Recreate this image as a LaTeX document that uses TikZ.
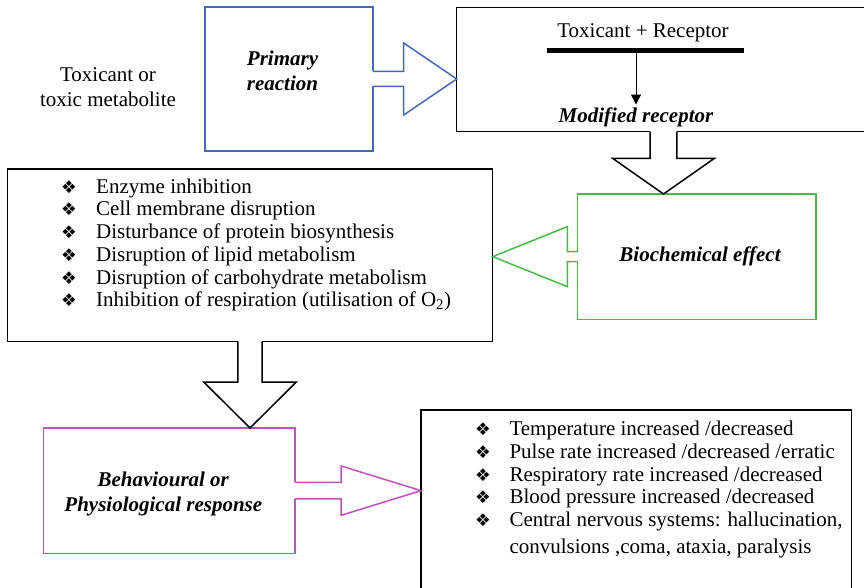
\documentclass[tikz,border=0pt]{standalone}
\usepackage{fontspec}
\setmainfont{Liberation Serif}
\newfontfamily\symfont{DejaVu Sans}
\usetikzlibrary{calc,arrows.meta}

\definecolor{boxblue}{RGB}{68,104,192}
\definecolor{boxgreen}{RGB}{66,190,66}
\definecolor{boxmagenta}{RGB}{192,82,192}

\newcommand\bul{\makebox[35pt][l]{\symfont\fontsize{17.5}{17.5}\selectfont ❖}}
\newcommand\bulb{\makebox[34.3pt][l]{\symfont\fontsize{17.5}{17.5}\selectfont ❖}}

% hollow block arrow: #1 colour, #2 base, #3 tip, #4 shaft half width,
% #5 head half width, #6 head length
\newcommand\blockarrow[6]{%
  \draw[white, line width=3pt] ($(#2)!#4!90:(#3)$) -- ($(#2)!#4!-90:(#3)$);
  \draw[#1, line width=1.5pt, line join=miter]
    ($(#2)!#4!90:(#3)$)
    -- ($(#3)!#6!(#2)!#4!90:(#3)$)
    -- ($(#3)!#6!(#2)!#5!90:(#3)$)
    -- (#3)
    -- ($(#3)!#6!(#2)!#5!-90:(#3)$)
    -- ($(#3)!#6!(#2)!#4!-90:(#3)$)
    -- ($(#2)!#4!-90:(#3)$);
}

\tikzset{
  box/.style={draw=#1, line width=1.5pt, rectangle, inner sep=0pt, outer sep=0pt, anchor=north west},
  box/.default=black,
  label/.style={inner sep=0pt, font=\fontsize{21}{25}\selectfont\bfseries\itshape, align=center},
  plain/.style={inner sep=0pt, font=\fontsize{21}{25}\selectfont, align=center},
  listtext/.style={inner sep=0pt, anchor=north west, align=left, font=\fontsize{21}{22.7}\selectfont},
}

\begin{document}
\begin{tikzpicture}[x=1pt, y=-1pt]
\clip (0,0) rectangle (864,588);
\fill[white] (0,0) rectangle (864,588);

% boxes
\node[box=boxblue, minimum width=168pt, minimum height=144pt] (prim) at (205,7) {};
\node[box, minimum width=430pt, minimum height=124.4pt] (recep) at (456.7,7.3) {};
\node[box=boxgreen, minimum width=238.3pt, minimum height=125.3pt] (bio) at (577.7,194) {};
\node[box, minimum width=485.4pt, minimum height=172.7pt] (list1) at (7.3,169) {};
\node[box=boxmagenta, minimum width=251.7pt, minimum height=125.3pt] (beh) at (43.3,428) {};
\node[box, minimum width=430.7pt, minimum height=200pt] (list2) at (421,410) {};

% labels
\node[plain, anchor=north] (toxlab) at (108,67.7) {Toxicant or\\toxic metabolite};
\node[label, anchor=north] (primlab) at (282.5,51) {Primary\\reaction};
\node[plain, anchor=base] (tr) at (643,37.7) {Toxicant + Receptor};
\node[label, anchor=base] (mr) at (636,122.5) {Modified receptor};
\node[label, anchor=base] (biolab) at (700,261.7) {Biochemical effect};
\node[label, anchor=north] (behlab) at (163.3,471.4) {Behavioural or\\Physiological response};

% receptor binding
\coordinate (barL) at (546.7,50.5);
\coordinate (barR) at (744,50.5);
\draw[line width=5pt] (barL) -- (barR);
\draw[line width=1pt, -{Triangle[length=10pt,width=10pt]}]
  (mr.north |- barR) -- ($(mr.north)+(0,-3)$);

% lists
\node[listtext] (effects) at (61,178.5) {%
\bul Enzyme inhibition\\
\bul Cell membrane disruption\\
\bul Disturbance of protein biosynthesis\\
\bul Disruption of lipid metabolism\\
\bul Disruption of carbohydrate metabolism\\
\bul Inhibition of respiration (utilisation of O\textsubscript{2})};

\node[listtext] (responses) at (475,421) {%
\bulb Temperature increased /decreased\\
\bulb Pulse rate increased /decreased /erratic\\
\bulb Respiratory rate increased /decreased\\
\bulb Blood pressure increased /decreased\\
\bulb Central nervous systems: hallucination,\\[4pt]
\hspace*{34.3pt}convulsions ,coma, ataxia, paralysis};

% block arrows
\coordinate (a1b) at (prim.east);
\coordinate (a1t) at (recep.west |- prim.east);
\blockarrow{boxblue}{a1b}{a1t}{7.5pt}{36pt}{53pt}

\path (recep.south west) ++(206.8,0) coordinate (a2b);
\coordinate (a2t) at (a2b |- bio.north);
\blockarrow{black}{a2b}{a2t}{13.3pt}{51pt}{35.7pt}

\coordinate (a3b) at (bio.west);
\coordinate (a3t) at (list1.east |- bio.west);
\blockarrow{boxgreen}{a3b}{a3t}{5pt}{30pt}{74.6pt}

\coordinate (a4b) at (list1.south);
\coordinate (a4t) at (list1.south |- beh.north);
\blockarrow{black}{a4b}{a4t}{12.2pt}{46.3pt}{46pt}

\coordinate (a5b) at (beh.east);
\coordinate (a5t) at (list2.west |- beh.east);
\blockarrow{boxmagenta}{a5b}{a5t}{8.3pt}{24.7pt}{80pt}
\end{tikzpicture}
\end{document}
